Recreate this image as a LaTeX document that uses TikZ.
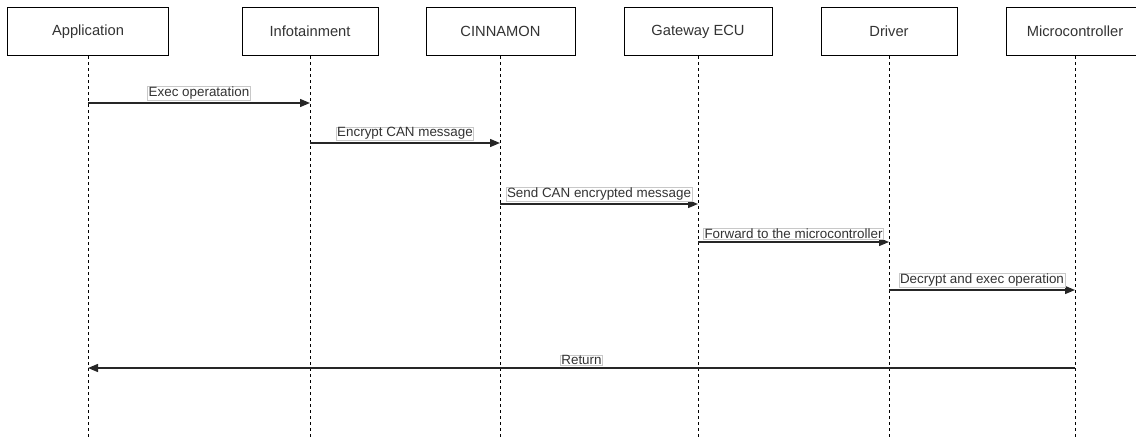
\documentclass[tikz,border=0pt]{standalone}
\usepackage{fontspec}
\setmainfont{Liberation Sans}
\usetikzlibrary{arrows.meta}
\definecolor{txt}{HTML}{333333}
\definecolor{lblborder}{HTML}{C8C8C8}
\tikzset{
  actor/.style={draw=black, line width=1pt, fill=white, minimum width=#1, minimum height=48pt, inner sep=0pt, text=txt, font=\fontsize{14.7}{17}\selectfont},
  lifeline/.style={draw=black, line width=1pt, dash pattern=on 3pt off 3pt},
  msg/.style={draw=black!85, line width=1.3pt, -{Triangle[length=10pt,width=8pt]}},
  lbl/.style={draw=lblborder, line width=0.6pt, fill=white, text=txt, inner xsep=1pt, inner ysep=0.5pt, font=\fontsize{13.4}{15}\selectfont, anchor=south, yshift=2.5pt}
}
\begin{document}
\begin{tikzpicture}[x=1pt,y=-1pt]
\useasboundingbox (0,0) rectangle (1136,439);
\clip (0,0) rectangle (1136,439);
\fill[white] (0,0) rectangle (1136,439);
% lifelines first
\foreach \n/\x in {A/88,I/310,C/500,G/698,D/889,M/1075}{
  \coordinate (\n top) at (\x,56);
  \coordinate (\n bot) at (\x,439);
  \draw[lifeline] (\n top) -- (\n bot);
}
\node[actor=161pt] (A) at (88,31.5) {Application};
\node[actor=136pt] (I) at (310,31.5) {Infotainment};
\node[actor=149pt] (C) at (500.5,31.5) {CINNAMON};
\node[actor=148pt] (G) at (698,31.5) {Gateway ECU};
\node[actor=136pt] (D) at (889,31.5) {Driver};
\node[actor=138pt] (M) at (1075,31.5) {Microcontroller};
% message coordinates
\coordinate (a1) at (88,103);  \coordinate (b1) at (310,103);
\coordinate (a2) at (310,143); \coordinate (b2) at (500,143);
\coordinate (a3) at (500,204); \coordinate (b3) at (698,204);
\coordinate (a4) at (698,242); \coordinate (b4) at (889,242);
\coordinate (a5) at (889,290); \coordinate (b5) at (1075,290);
\coordinate (a6) at (1075,368); \coordinate (b6) at (88,368);
\draw[msg] (a1) -- node[lbl] (l1) {Exec operatation} (b1);
\draw[msg] (a2) -- node[lbl] (l2) {Encrypt CAN message} (b2);
\draw[msg] (a3) -- node[lbl] (l3) {Send CAN encrypted message} (b3);
\draw[msg] (a4) -- node[lbl] (l4) {Forward to the microcontroller} (b4);
\draw[msg] (a5) -- node[lbl] (l5) {Decrypt and exec operation} (b5);
\draw[msg] (a6) -- node[lbl] (l6) {Return} (b6);
\end{tikzpicture}
\end{document}
